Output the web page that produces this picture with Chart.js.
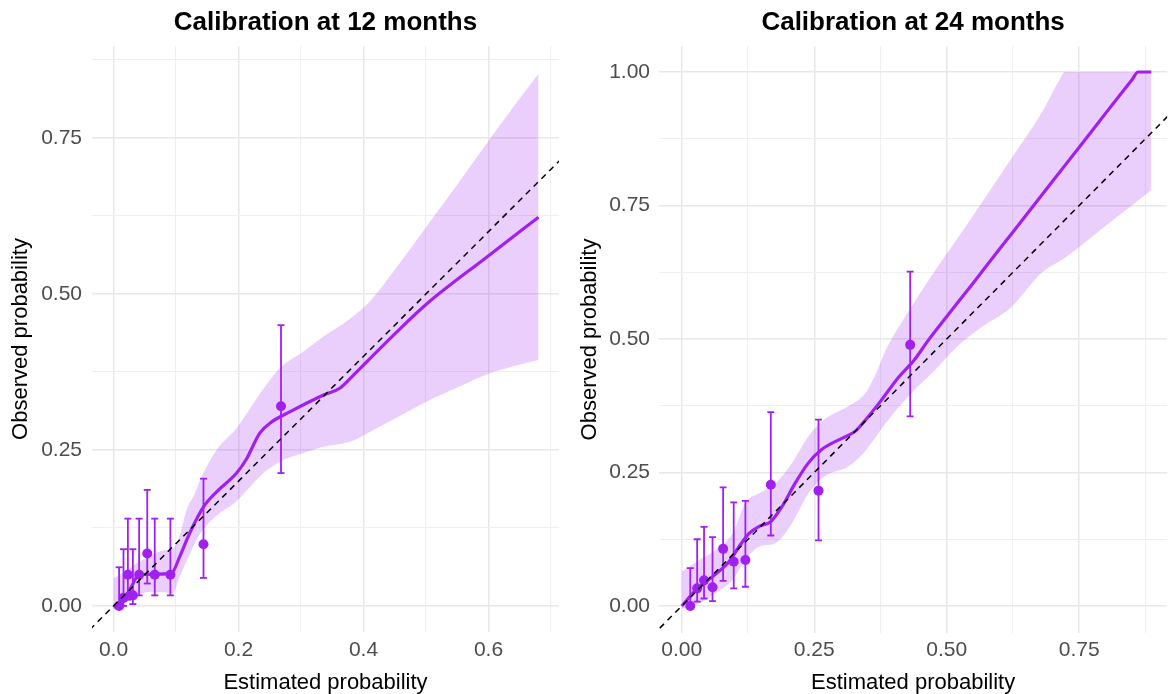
<!DOCTYPE html>
<html>
<head>
<meta charset="utf-8">
<script src="https://cdn.jsdelivr.net/npm/chart.js@4.4.0/dist/chart.umd.min.js"></script>
<style>
  html, body { margin: 0; padding: 0; background: #fff; }
  #wrap { position: relative; width: 1173px; height: 694px; overflow: hidden; }
  #c12 { position: absolute; left: 0; top: 0; }
  #c24 { position: absolute; left: 575px; top: 0; }
</style>
</head>
<body>
<div id="wrap">
  <canvas id="c12" width="580" height="694"></canvas>
  <canvas id="c24" width="598" height="694"></canvas>
</div>
<script>
// 12 months: grouped points with confidence intervals
const est12 = [0.009, 0.016, 0.023, 0.031, 0.041, 0.054, 0.066, 0.091, 0.144, 0.268]
const obs12 = [0.000, 0.013, 0.050, 0.017, 0.050, 0.084, 0.050, 0.050, 0.099, 0.320]
const lo12 = [0.000, 0.000, 0.010, 0.003, 0.017, 0.036, 0.017, 0.017, 0.045, 0.213]
const hi12 = [0.062, 0.091, 0.140, 0.091, 0.140, 0.186, 0.140, 0.140, 0.204, 0.450]

// 12 months: smoothed calibration curve
const curveX12 = [0.000, 0.016, 0.026, 0.041, 0.069, 0.093, 0.106, 0.122, 0.144, 0.165, 0.197, 0.213, 0.234, 0.253, 0.282, 0.336, 0.362, 0.384, 0.405, 0.453, 0.501, 0.597, 0.680]
const curveY12 = [-0.002, 0.012, 0.026, 0.050, 0.051, 0.053, 0.079, 0.117, 0.159, 0.183, 0.213, 0.236, 0.277, 0.295, 0.311, 0.338, 0.349, 0.370, 0.391, 0.439, 0.484, 0.559, 0.623]

// 12 months: confidence band
const bandX12 = [0.000, 0.020, 0.040, 0.060, 0.080, 0.095, 0.105, 0.117, 0.130, 0.140, 0.165, 0.197, 0.213, 0.240, 0.268, 0.304, 0.336, 0.378, 0.410, 0.450, 0.500, 0.550, 0.600, 0.640, 0.680]
const bandHi12 = [0.044, 0.056, 0.070, 0.081, 0.089, 0.092, 0.110, 0.154, 0.180, 0.205, 0.250, 0.285, 0.308, 0.348, 0.383, 0.408, 0.432, 0.460, 0.488, 0.539, 0.607, 0.675, 0.745, 0.800, 0.853]
const bandLo12 = [-0.006, 0.008, 0.019, 0.023, 0.022, 0.020, 0.045, 0.072, 0.100, 0.118, 0.145, 0.168, 0.185, 0.213, 0.232, 0.245, 0.255, 0.263, 0.279, 0.300, 0.327, 0.350, 0.372, 0.384, 0.394]

// 24 months: grouped points with confidence intervals
const est24 = [0.016, 0.029, 0.042, 0.058, 0.078, 0.098, 0.120, 0.168, 0.258, 0.431]
const obs24 = [0.000, 0.033, 0.048, 0.035, 0.107, 0.083, 0.086, 0.227, 0.216, 0.489]
const lo24 = [0.000, 0.008, 0.014, 0.009, 0.047, 0.033, 0.036, 0.132, 0.123, 0.355]
const hi24 = [0.071, 0.125, 0.148, 0.129, 0.222, 0.194, 0.197, 0.363, 0.349, 0.626]

// 24 months: smoothed calibration curve
const curveX24 = [0.000, 0.027, 0.058, 0.089, 0.108, 0.127, 0.146, 0.168, 0.189, 0.214, 0.239, 0.264, 0.302, 0.327, 0.352, 0.377, 0.408, 0.439, 0.464, 0.500, 0.550, 0.600, 0.650, 0.700, 0.750, 0.800, 0.850, 0.861, 0.886]
const curveY24 = [0.000, 0.030, 0.055, 0.083, 0.111, 0.136, 0.149, 0.158, 0.186, 0.230, 0.268, 0.293, 0.314, 0.327, 0.355, 0.386, 0.427, 0.461, 0.496, 0.542, 0.605, 0.669, 0.732, 0.796, 0.859, 0.923, 0.986, 1.000, 1.000]

// 24 months: confidence band
const bandX24 = [0.000, 0.033, 0.064, 0.096, 0.120, 0.146, 0.177, 0.208, 0.239, 0.270, 0.314, 0.346, 0.365, 0.383, 0.430, 0.476, 0.520, 0.564, 0.620, 0.680, 0.712, 0.723, 0.800, 0.886]
const bandHi24 = [0.064, 0.086, 0.105, 0.136, 0.193, 0.211, 0.230, 0.268, 0.318, 0.350, 0.374, 0.398, 0.432, 0.475, 0.555, 0.625, 0.688, 0.752, 0.835, 0.925, 0.984, 1.000, 1.000, 1.000]
const bandLo24 = [-0.005, 0.005, 0.024, 0.049, 0.086, 0.111, 0.118, 0.155, 0.211, 0.243, 0.261, 0.290, 0.315, 0.340, 0.395, 0.440, 0.486, 0.521, 0.558, 0.625, 0.645, 0.652, 0.712, 0.779]

// perfect calibration reference line
const identity = [-0.1, 1.1]

// ticks and tick labels (blank label = minor grid line)
const xTicks12 = [0, 0.1, 0.2, 0.3, 0.4, 0.5, 0.6, 0.7]
const xLabels12 = ['0.0', '', '0.2', '', '0.4', '', '0.6', '']
const yTicks12 = [0, 0.125, 0.25, 0.375, 0.5, 0.625, 0.75, 0.875]
const yLabels12 = ['0.00', '', '0.25', '', '0.50', '', '0.75', '']
const xTicks24 = [0, 0.125, 0.25, 0.375, 0.5, 0.625, 0.75, 0.875]
const xLabels24 = ['0.00', '', '0.25', '', '0.50', '', '0.75', '']
const yTicks24 = [0, 0.125, 0.25, 0.375, 0.5, 0.625, 0.75, 0.875, 1]
const yLabels24 = ['0.00', '', '0.25', '', '0.50', '', '0.75', '', '1.00']

const purple = '#A020F0'
const ribbon = 'rgba(160, 32, 240, 0.22)'
const fontFamily = "'Liberation Sans', Arial, Helvetica, sans-serif"

function pairs (xs, ys) {
  return xs.map(function (x, i) {
    return { x: x, y: ys[i] }
  })
}

function errorSegments (xs, lo, hi) {
  var out = []
  xs.forEach(function (x, i) {
    out.push({ x: x, y: lo[i] }, { x: x, y: hi[i] }, { x: x, y: null })
  })
  return out
}

function gridColor (labels) {
  return function (c) {
    return labels[c.index] ? '#E8E8E8' : '#EFEFEF'
  }
}

function gridWidth (labels) {
  return function (c) {
    return labels[c.index] ? 1.5 : 1.1
  }
}

function buildChart (id, p) {
  var ctx = document.getElementById(id).getContext('2d')
  return new Chart(ctx, {
    type: 'line',
    data: {
      datasets: [
        // band upper edge, then lower edge filled up to it
        { data: pairs(p.bandX, p.bandHi), borderColor: 'transparent', borderWidth: 0, pointRadius: 0, fill: false, cubicInterpolationMode: 'monotone', order: 6 },
        { data: pairs(p.bandX, p.bandLo), borderColor: 'transparent', borderWidth: 0, pointRadius: 0, fill: '-1', backgroundColor: ribbon, cubicInterpolationMode: 'monotone', order: 5 },
        // smoothed curve
        { data: pairs(p.curveX, p.curveY), borderColor: purple, borderWidth: 3.2, pointRadius: 0, fill: false, cubicInterpolationMode: 'monotone', order: 4 },
        // error bars and their caps
        { data: errorSegments(p.est, p.lo, p.hi), borderColor: purple, borderWidth: 1.8, pointRadius: 0, fill: false, spanGaps: false, order: 3 },
        { type: 'scatter', data: pairs(p.est, p.lo).concat(pairs(p.est, p.hi)), pointStyle: 'line', pointRadius: 3.5, borderColor: purple, borderWidth: 1.8, order: 3 },
        // observed points
        { type: 'scatter', data: pairs(p.est, p.obs), pointRadius: 5, backgroundColor: purple, borderColor: purple, borderWidth: 0, order: 2 },
        // diagonal
        { data: pairs(identity, identity), borderColor: '#000', borderWidth: 1.5, borderDash: [6, 5], pointRadius: 0, fill: false, order: 1 },
      ],
    },
    options: {
      responsive: false,
      animation: false,
      devicePixelRatio: 1,
      events: [],
      layout: { padding: { left: 0, right: p.padRight, top: 0, bottom: 0 } },
      plugins: {
        legend: { display: false },
        tooltip: { enabled: false },
        title: {
          display: true,
          text: p.title,
          fullSize: false,
          color: '#000',
          font: { family: fontFamily, size: 26, weight: 'bold', lineHeight: 1.2 },
          padding: { top: 7, bottom: 7.8 },
        },
      },
      scales: {
        x: {
          type: 'linear',
          bounds: 'data',
          min: p.xMin,
          max: p.xMax,
          afterBuildTicks: function (s) {
            s.ticks = p.xTicks.map(function (v) { return { value: v } })
          },
          afterFit: function (s) { s.height = p.xAxisH },
          grid: { color: gridColor(p.xLabels), lineWidth: gridWidth(p.xLabels), drawTicks: false },
          border: { display: false },
          ticks: {
            autoSkip: false,
            maxRotation: 0,
            padding: p.xTickPad,
            color: '#4D4D4D',
            font: { family: fontFamily, size: 21 },
            callback: function (v, i) { return p.xLabels[i] },
          },
          title: { display: true, text: 'Estimated probability', color: '#000', font: { family: fontFamily, size: 22, lineHeight: 1 }, padding: { top: 0, bottom: 0 } },
        },
        y: {
          type: 'linear',
          bounds: 'data',
          min: p.yMin,
          max: p.yMax,
          afterBuildTicks: function (s) {
            s.ticks = p.yTicks.map(function (v) { return { value: v } })
          },
          afterFit: function (s) { s.width = p.yAxisW },
          grid: { color: gridColor(p.yLabels), lineWidth: gridWidth(p.yLabels), drawTicks: false },
          border: { display: false },
          ticks: {
            autoSkip: false,
            padding: p.yTickPad,
            color: '#4D4D4D',
            font: { family: fontFamily, size: 21 },
            callback: function (v, i) { return p.yLabels[i] },
          },
          title: { display: true, text: 'Observed probability', color: '#000', font: { family: fontFamily, size: 22, lineHeight: 1 }, padding: { top: p.yTitlePad, bottom: 0 } },
        },
      },
    },
  })
}

window.chart12 = buildChart('c12', {
  title: 'Calibration at 12 months',
  est: est12, obs: obs12, lo: lo12, hi: hi12,
  curveX: curveX12, curveY: curveY12,
  bandX: bandX12, bandHi: bandHi12, bandLo: bandLo12,
  xTicks: xTicks12, xLabels: xLabels12, yTicks: yTicks12, yLabels: yLabels12,
  xMin: -0.0344, xMax: 0.7128, yMin: -0.0417, yMax: 0.8974,
  padRight: 21, yAxisW: 92, xAxisH: 62, xTickPad: 6, yTickPad: 10, yTitlePad: 10,
})

window.chart24 = buildChart('c24', {
  title: 'Calibration at 24 months',
  est: est24, obs: obs24, lo: lo24, hi: hi24,
  curveX: curveX24, curveY: curveY24,
  bandX: bandX24, bandHi: bandHi24, bandLo: bandLo24,
  xTicks: xTicks24, xLabels: xLabels24, yTicks: yTicks24, yLabels: yLabels24,
  xMin: -0.043, xMax: 0.916, yMin: -0.0506, yMax: 1.0487,
  padRight: 0, yAxisW: 84, xAxisH: 61, xTickPad: 5, yTickPad: 9, yTitlePad: 4,
})
</script>
</body>
</html>
